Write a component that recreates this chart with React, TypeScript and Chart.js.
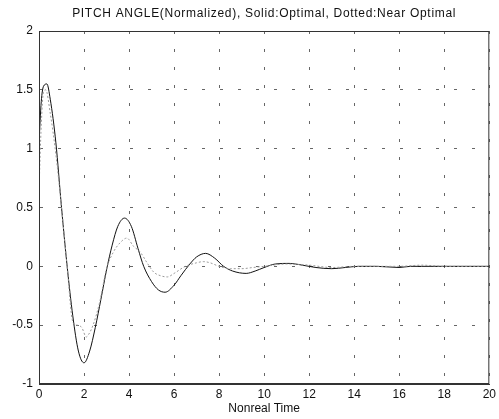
import React, { useEffect, useRef } from "react";
import { Chart, registerables } from "chart.js";

Chart.register(...registerables);

const TITLE = "PITCH ANGLE(Normalized), Solid:Optimal, Dotted:Near Optimal";
const X_LABEL = "Nonreal Time";

const optimalT = [0, 0.1, 0.2, 0.35, 0.5, 0.75, 1.0, 1.25, 1.5, 1.75, 2.0, 2.25, 2.5, 2.75, 3.0, 3.25, 3.5, 3.8, 4.1, 4.4, 4.65, 5.0, 5.3, 5.6, 6.0, 6.3, 6.7, 7.0, 7.4, 7.8, 8.2, 8.6, 9.2, 9.6, 10.0, 10.5, 11.1, 11.7, 12.3, 13.0, 13.6, 14.2, 15, 16, 16.5, 17, 18, 19, 20];
const optimalY = [1.05, 1.4, 1.53, 1.55, 1.42, 1.05, 0.5, 0.0, -0.42, -0.72, -0.82, -0.72, -0.52, -0.28, -0.03, 0.18, 0.34, 0.41, 0.34, 0.15, 0.0, -0.13, -0.2, -0.22, -0.16, -0.08, 0.02, 0.08, 0.11, 0.07, 0.0, -0.04, -0.06, -0.04, -0.01, 0.02, 0.025, 0.01, -0.01, -0.02, -0.01, 0, 0, -0.01, 0, 0, 0, 0, 0];

const nearT = [0, 0.1, 0.2, 0.3, 0.5, 0.75, 1.0, 1.25, 1.5, 1.7, 1.9, 2.1, 2.2, 2.4, 2.7, 3.0, 3.3, 3.6, 3.9, 4.2, 4.5, 4.8, 5.1, 5.4, 5.7, 6.0, 6.5, 7.0, 7.3, 7.6, 8.0, 8.5, 9.0, 9.5, 10, 11, 12, 13, 14, 15, 16, 17, 18, 19, 20];
const nearY = [0.65, 1.2, 1.48, 1.5, 1.3, 0.95, 0.5, 0.0, -0.47, -0.5, -0.52, -0.6, -0.58, -0.5, -0.3, -0.02, 0.12, 0.2, 0.24, 0.17, 0.12, 0.03, -0.05, -0.08, -0.09, -0.06, 0.0, 0.03, 0.04, 0.03, 0.0, -0.02, -0.02, -0.01, 0.0, 0.02, 0.01, -0.01, 0, 0, 0, 0.01, 0, 0, 0];

const X_MIN = 0, X_MAX = 20, X_STEP = 2;
const Y_MIN = -1, Y_MAX = 2, Y_STEP = 0.5;

const FONT = "'Liberation Sans', Arial, Helvetica, sans-serif";

const framePlugin = {
  id: "frame",
  afterDraw(chart: any) {
    const { ctx, chartArea } = chart;
    ctx.save();
    ctx.strokeStyle = "#333";
    ctx.lineWidth = 1;
    ctx.strokeRect(chartArea.left + 0.5, chartArea.top + 0.5, chartArea.right - chartArea.left - 1, chartArea.bottom - chartArea.top - 1);
    ctx.fillStyle = "#111";
    ctx.font = "12px " + FONT;
    try { (ctx as any).letterSpacing = "0.7px"; } catch (e) {}
    ctx.textAlign = "center";
    ctx.textBaseline = "middle";
    ctx.fillText(TITLE, (chartArea.left + chartArea.right) / 2, 14);
    ctx.restore();
  },
};

export default function App() {
  const ref = useRef<HTMLCanvasElement | null>(null);
  useEffect(() => {
    document.body.style.margin = "0";
    const canvas = ref.current;
    if (!canvas) return;
    const chart = new Chart(canvas, {
      type: "line",
      data: {
        datasets: [
          {
            label: "Near Optimal",
            data: nearT.map((t, i) => ({ x: t, y: nearY[i] })),
            borderColor: "#9a9a9a",
            borderWidth: 1,
            borderDash: [2, 2],
            pointRadius: 0,
            cubicInterpolationMode: "monotone",
            fill: false,
          },
          {
            label: "Optimal",
            data: optimalT.map((t, i) => ({ x: t, y: optimalY[i] })),
            borderColor: "#111",
            borderWidth: 1,
            pointRadius: 0,
            cubicInterpolationMode: "monotone",
            fill: false,
          },
        ],
      },
      options: {
        responsive: false,
        animation: false,
        devicePixelRatio: 1,
        layout: { padding: { top: 31, right: 9, left: 0, bottom: 0 } },
        plugins: { legend: { display: false }, tooltip: { enabled: false }, title: { display: false } },
        scales: {
          x: {
            type: "linear",
            min: X_MIN,
            max: X_MAX,
            afterFit: (s: any) => { s.height = 35; },
            ticks: { stepSize: X_STEP, color: "#111", font: { family: FONT, size: 12 }, padding: 3, maxRotation: 0, callback: (v: any) => String(v) },
            grid: { color: "#666", drawTicks: false, tickLength: 0 },
            border: { display: true, color: "#333", dash: [3, 15] },
            title: { display: true, text: X_LABEL, color: "#111", font: { family: FONT, size: 12 }, padding: { top: 0, bottom: 3 } },
          },
          y: {
            type: "linear",
            min: Y_MIN,
            max: Y_MAX,
            afterFit: (s: any) => { s.width = 39; },
            ticks: { stepSize: Y_STEP, color: "#111", font: { family: FONT, size: 12 }, padding: 6, callback: (v: any) => String(v) },
            grid: { color: "#666", drawTicks: false, tickLength: 0 },
            border: { display: true, color: "#333", dash: [3, 15] },
          },
        },
      },
      plugins: [framePlugin],
    });
    return () => chart.destroy();
  }, []);
  return (
    <div style={{ width: 499, height: 419 }}>
      <canvas ref={ref} width={499} height={419} style={{ width: 499, height: 419, display: "block" }} />
    </div>
  );
}
